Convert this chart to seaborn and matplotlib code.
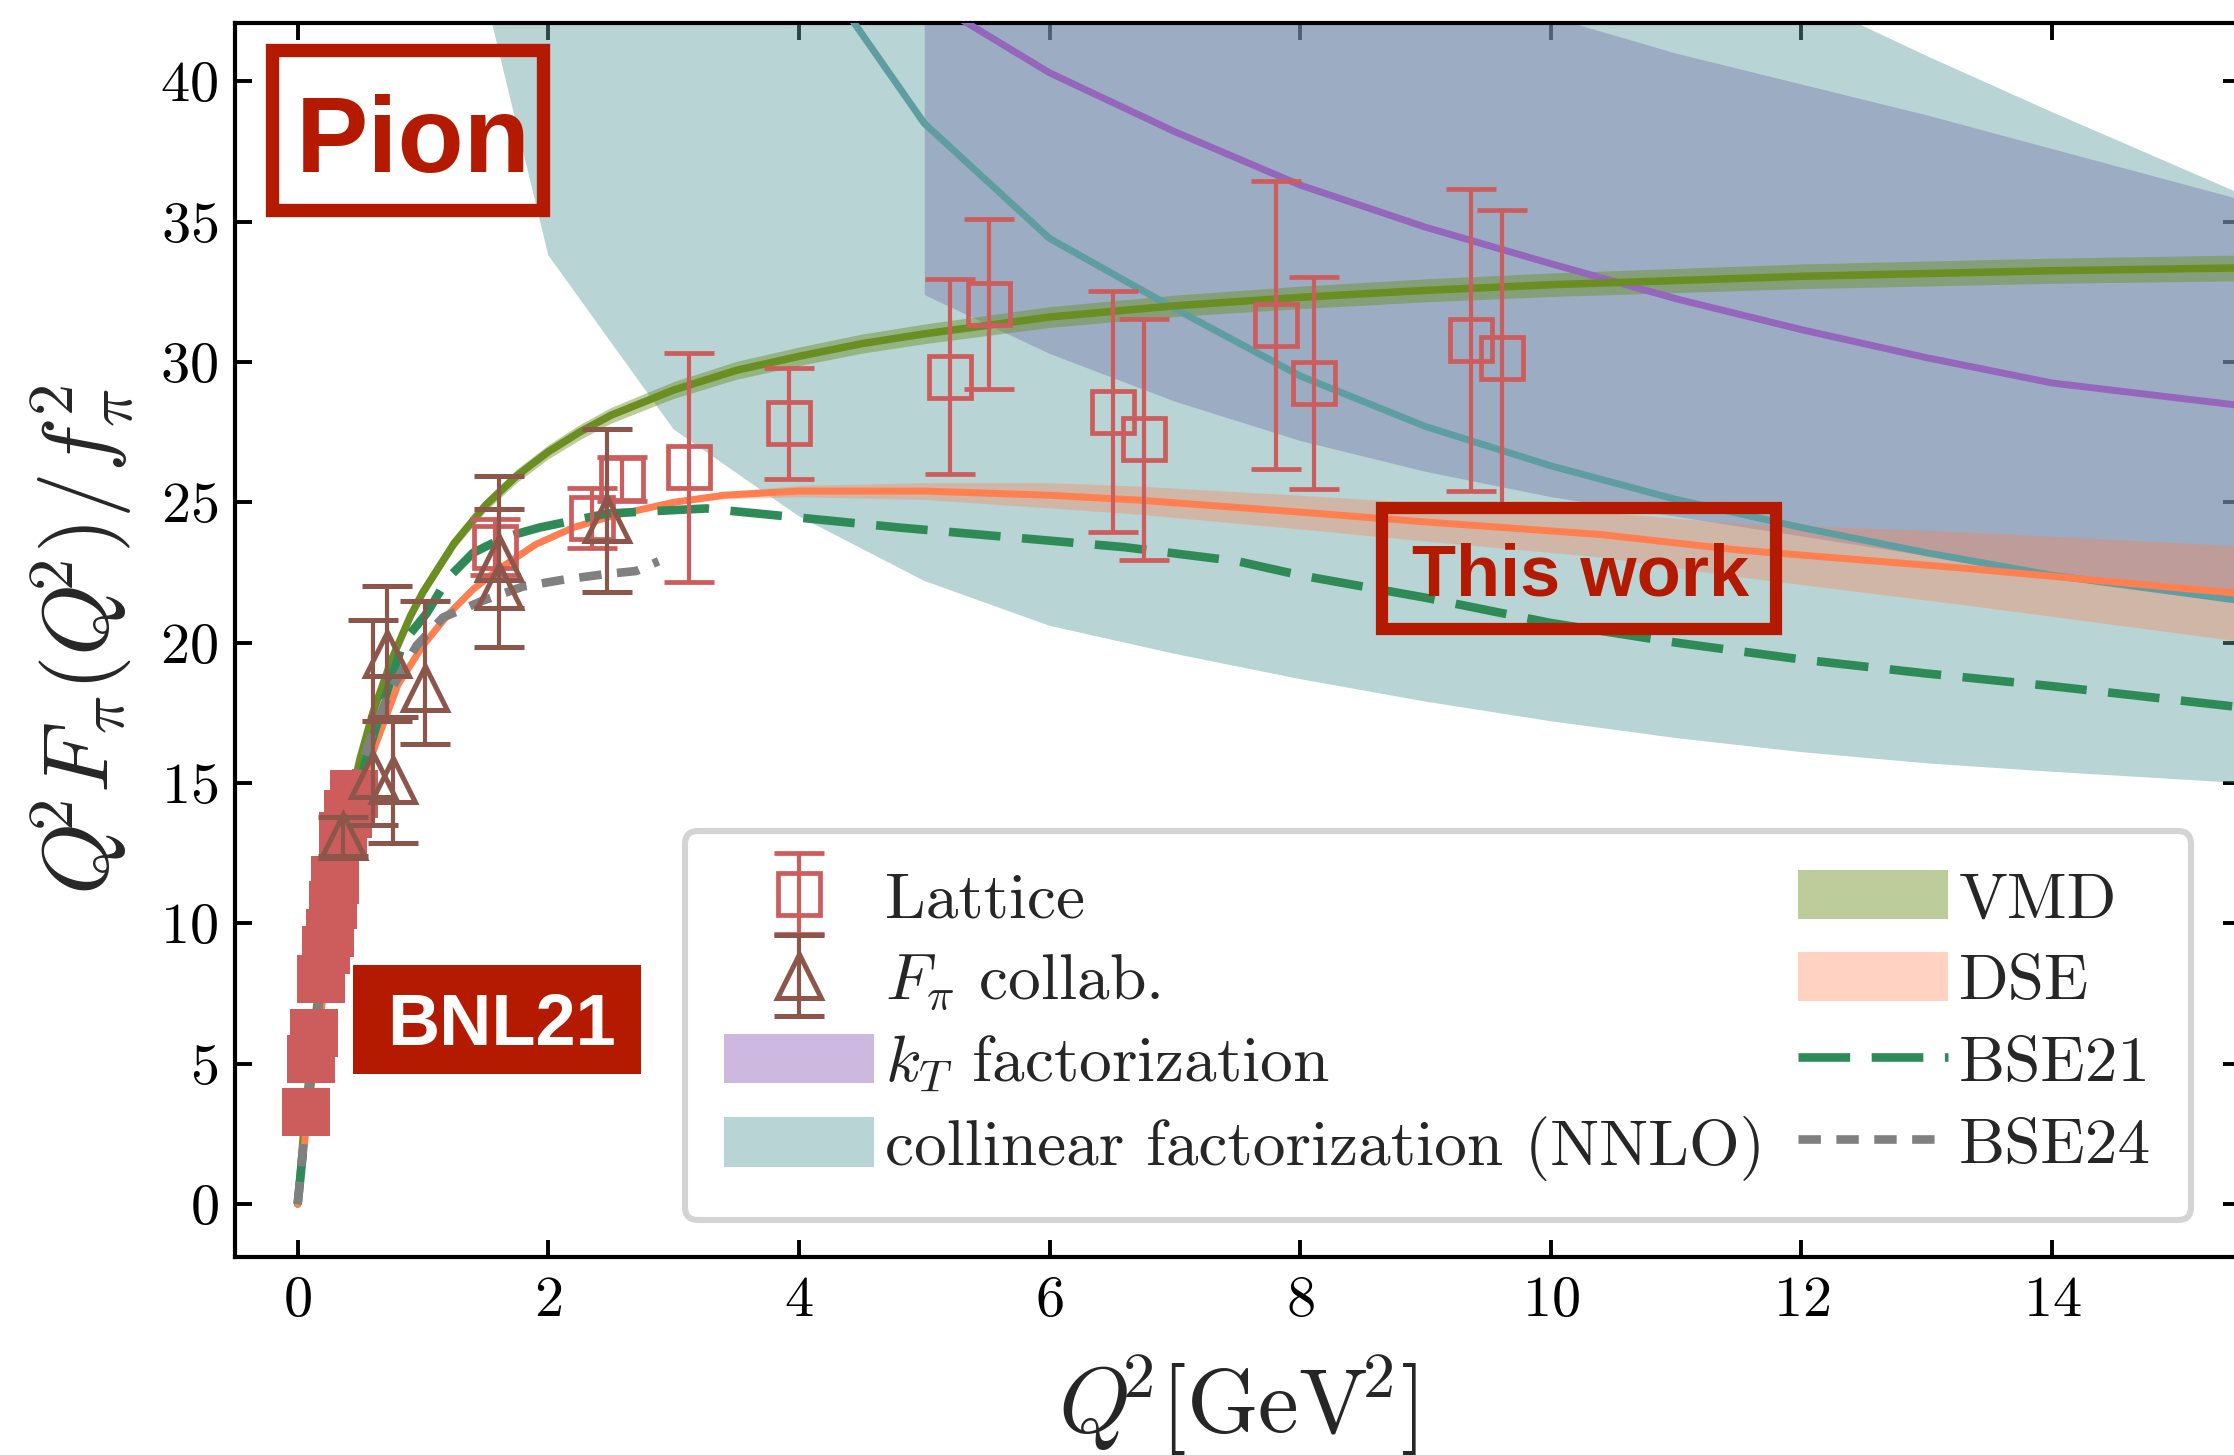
import numpy as np
import matplotlib
matplotlib.use("Agg")
import matplotlib.pyplot as plt
import seaborn as sns
from matplotlib.patches import Patch, Rectangle
from matplotlib.lines import Line2D
from matplotlib.container import ErrorbarContainer
from matplotlib.legend_handler import HandlerErrorbar

# ---------------- data ----------------
# Lattice (open squares)
lat_x = [1.575, 2.346, 2.586, 3.12, 3.918, 5.205, 5.52, 6.508, 6.755, 7.806, 8.11, 9.364, 9.614]
lat_y = [23.42, 24.43, 25.83, 26.24, 27.82, 29.47, 32.06, 28.23, 27.24, 31.31, 29.24, 30.78, 30.13]
lat_err = [1.0, 1.07, 0.8, 4.07, 1.98, 3.47, 3.03, 4.29, 4.29, 5.14, 3.77, 5.38, 5.28]

# F_pi collaboration (open triangles, asymmetric errors)
fpi_x = [0.36, 0.60, 0.71, 0.76, 1.02, 1.61, 1.61, 2.47]
fpi_y = [13.1, 15.3, 19.6, 15.1, 18.4, 23.0, 22.0, 24.4]
fpi_lo = [0.7, 1.8, 2.4, 2.25, 2.0, 1.75, 2.15, 2.6]
fpi_hi = [0.7, 5.5, 2.4, 2.25, 3.1, 1.75, 3.95, 3.2]

# BNL21 (filled squares)
bnl_x = [0.07, 0.11, 0.13, 0.186, 0.23, 0.258, 0.284, 0.30, 0.36, 0.40, 0.45]
bnl_y = [3.29, 5.16, 6.08, 8.0, 9.05, 9.67, 10.65, 11.54, 13.1, 13.9, 14.6]
bnl_err = [0.3, 0.3, 0.3, 0.3, 0.3, 0.3, 0.3, 0.3, 0.3, 0.3, 0.9]

# VMD
vmd_x = [0, 0.05, 0.1, 0.15, 0.2, 0.3, 0.4, 0.5, 0.6, 0.75, 0.9, 1.0, 1.25, 1.5, 1.75, 2.0,
         2.25, 2.5, 3.0, 3.5, 4.0, 4.5, 5.0, 5.5, 6.0, 7.0, 8.0, 9.0, 10.0, 12.0, 14.0, 15.5]
vmd_y = [0, 2.7, 5.0, 7.0, 8.8, 11.7, 14.0, 15.9, 17.5, 19.4, 20.95, 21.8, 23.55, 24.9, 25.95,
         26.8, 27.5, 28.1, 29.0, 29.7, 30.2, 30.65, 31.0, 31.3, 31.6, 32.0, 32.3, 32.55, 32.75,
         33.05, 33.25, 33.35]
vmd_err = [0, 0.03, 0.05, 0.07, 0.08, 0.1, 0.11, 0.12, 0.13, 0.15, 0.17, 0.18, 0.2, 0.22, 0.24,
           0.25, 0.27, 0.28, 0.3, 0.32, 0.33, 0.34, 0.35, 0.36, 0.37, 0.38, 0.4, 0.41, 0.42,
           0.44, 0.45, 0.46]

# DSE (this work)
dse_x = [0, 0.05, 0.1, 0.2, 0.3, 0.45, 0.6, 0.8, 1.0, 1.2, 1.4, 1.6, 1.9, 2.2, 2.5, 3.0, 3.4,
         4.0, 5.0, 6.0, 6.7, 8.0, 9.0, 10.4, 11.5, 13.3, 15.5]
dse_y = [0, 2.0, 3.9, 7.3, 10.3, 13.6, 16.1, 18.5, 19.9, 21.0, 21.9, 22.6, 23.5, 24.1, 24.5,
         25.0, 25.25, 25.4, 25.4, 25.25, 25.08, 24.65, 24.3, 23.85, 23.3, 22.65, 21.75]
dse_err = [0, 0, 0, 0, 0, 0, 0.02, 0.03, 0.03, 0.04, 0.04, 0.05, 0.06, 0.07, 0.08, 0.1, 0.13,
           0.2, 0.3, 0.45, 0.5, 0.6, 0.68, 0.8, 0.95, 1.3, 1.7]

# BSE21
bse21_x = [0, 0.05, 0.16, 0.3, 0.45, 0.66, 0.84, 1.03, 1.2, 1.4, 1.65, 1.93, 2.47, 3.26, 3.9,
           4.8, 5.7, 6.6, 7.5, 8.0, 9.0, 10.0, 11.0, 12.0, 13.0, 14.0, 15.5]
bse21_y = [0, 2.2, 6.9, 11.0, 14.4, 17.5, 20.0, 21.05, 22.3, 23.2, 23.75, 24.1, 24.6, 24.78,
           24.5, 24.1, 23.75, 23.4, 22.9, 22.4, 21.6, 20.7, 20.0, 19.4, 18.9, 18.45, 17.7]

# BSE24
bse24_x = [0, 0.07, 0.11, 0.19, 0.3, 0.35, 0.44, 0.6, 0.74, 0.95, 1.16, 1.48, 1.8, 2.13, 2.47,
           2.7, 2.88]
bse24_y = [0, 3.2, 5.0, 7.9, 11.2, 12.6, 14.8, 16.8, 18.3, 19.9, 20.9, 21.5, 22.0, 22.25, 22.45,
           22.55, 22.9]

# k_T factorization: central line and band
kt_x = [5, 6, 7, 8, 9, 10, 11, 12, 13, 14, 14.75, 15.5]
kt_y = [43.0, 40.3, 38.2, 36.3, 34.8, 33.5, 32.25, 31.15, 30.15, 29.25, 28.85, 28.45]
ktb_x = [5, 6, 7, 8, 9, 10, 11, 12, 13, 14, 15.5]
kt_lo = [32.4, 30.3, 28.6, 27.2, 26.1, 25.2, 24.5, 23.8, 23.1, 22.5, 21.8]
kt_hi = [60, 55, 50, 47, 44.5, 42.3, 41.0, 39.9, 38.8, 37.6, 35.8]

# collinear factorization (NNLO): central line and band
col_x = [4, 5, 6, 7, 8, 9, 10, 11, 12, 13, 14, 15.5]
col_y = [44.9, 38.5, 34.4, 31.9, 29.5, 27.7, 26.3, 25.1, 24.1, 23.2, 22.4, 21.5]
colb_x = [1.5, 2, 3, 4, 5, 6, 7, 8, 9, 10, 11, 12, 13, 14, 15.5]
colb_lo = [43.0, 33.8, 27.6, 24.5, 22.2, 20.6, 19.6, 18.7, 17.9, 17.2, 16.6, 16.1, 15.7, 15.4, 15.0]
colb_hi = [80, 75, 68, 62, 57, 53, 50, 48, 46.5, 45.3, 44.2, 43.0, 40.9, 38.9, 36.0]

legend_labels = ["Lattice", r"$F_\pi$ collab.", r"$k_T$ factorization",
                 "collinear factorization (NNLO)", "VMD", "DSE", "BSE21", "BSE24"]

# ---------------- style ----------------
sns.set_style("ticks")
plt.rcParams.update({
    "font.family": ["cmr10", "DejaVu Serif"],
    "mathtext.fontset": "cm",
    "axes.formatter.use_mathtext": True,
    "axes.unicode_minus": False,
    "axes.edgecolor": "black",
    "xtick.color": "black",
    "ytick.color": "black",
})

C_LAT = "#CD5C5C"
C_FPI = "#8C564B"
C_KT = "tab:purple"
C_COL = "cadetblue"
C_VMD = "olivedrab"
C_DSE = "coral"
C_B21 = "seagreen"
C_B24 = "grey"
C_RED = "#B41A00"

fig = plt.figure(figsize=(11.17, 7.275), dpi=200)
ax = fig.add_axes([0.1052, 0.1364, 0.8975, 0.8479])

# bands
ax.fill_between(ktb_x, kt_lo, kt_hi, color=C_KT, alpha=0.46, lw=0, zorder=1)
ax.fill_between(colb_x, colb_lo, colb_hi, color=C_COL, alpha=0.44, lw=0, zorder=2)
vy, ve = np.array(vmd_y), np.array(vmd_err)
ax.fill_between(vmd_x, vy - ve, vy + ve, color=C_VMD, alpha=0.45, lw=0, zorder=3)
dy, de = np.array(dse_y), np.array(dse_err)
ax.fill_between(dse_x, dy - de, dy + de, color=C_DSE, alpha=0.35, lw=0, zorder=4)


def sline(x, y, **kw):
    sns.lineplot(x=x, y=y, ax=ax, estimator=None, sort=False, **kw)
    return ax.lines[-1]


sline(kt_x, kt_y, color=C_KT, lw=2.5, zorder=5)
sline(col_x, col_y, color=C_COL, lw=2.5, zorder=5)
sline(vmd_x, vmd_y, color=C_VMD, lw=2.7, zorder=6)
sline(dse_x, dse_y, color=C_DSE, lw=2.5, zorder=6)
l21 = sline(bse21_x, bse21_y, color=C_B21, lw=3.1, zorder=7)
l21.set_dashes([6.0, 2.5])
l24 = sline(bse24_x, bse24_y, color=C_B24, lw=3.1, zorder=7)
l24.set_dashes([2.6, 1.8])

# data points
ax.errorbar(bnl_x, bnl_y, yerr=bnl_err, fmt="s", ms=17, color=C_LAT, mec=C_LAT,
            mew=0, elinewidth=1.4, capsize=7.7, capthick=1.4, zorder=8)
lat = ax.errorbar(lat_x, lat_y, yerr=lat_err, fmt="s", ms=15, mfc="none", mec=C_LAT,
                  mew=1.7, ecolor=C_LAT, elinewidth=1.5, capsize=9, capthick=1.5, zorder=9)
fpi = ax.errorbar(fpi_x, fpi_y, yerr=[fpi_lo, fpi_hi], fmt="^", ms=16, mfc="none", mec=C_FPI,
                  mew=1.8, ecolor=C_FPI, elinewidth=1.5, capsize=9, capthick=1.5, zorder=10)

# axes
ax.set_xlim(-0.5, 15.5)
ax.set_ylim(-1.87, 42.08)
ax.set_xticks(range(0, 15, 2))
ax.set_yticks(range(0, 41, 5))
ax.tick_params(which="both", direction="in", top=True, right=True, length=6, width=1.4,
               labelsize=21)
ax.tick_params(axis="x", pad=7)
ax.tick_params(axis="y", pad=6)
for s in ax.spines.values():
    s.set_linewidth(1.5)
    s.set_color("black")
ax.set_xlabel(r"$Q^{\!\!2}[\mathrm{GeV}^{\!2}]$", fontsize=33)
ax.xaxis.set_label_coords(0.5, -0.078)
ax.set_ylabel(r"$Q^{\!\!2}F_{\pi}(Q^{\!\!2})/f_{\pi}^{2}$", fontsize=33)
ax.yaxis.set_label_coords(-0.05, 0.5)

# annotation boxes
ax.add_patch(Rectangle((0.0182, 0.8479), 0.1356, 0.1304, transform=ax.transAxes, fill=False,
                       ec=C_RED, lw=4.8, zorder=12, clip_on=False))
ax.text(0.0304, 0.879, "Pion", transform=ax.transAxes, fontsize=39, fontweight="bold",
        family="Liberation Sans", color=C_RED, ha="left", va="baseline", zorder=13)

ax.add_patch(Rectangle((0.572, 0.5084), 0.1966, 0.0987, transform=ax.transAxes, fill=False,
                       ec=C_RED, lw=4.4, zorder=12))
ax.text(0.587, 0.5355, "This work", transform=ax.transAxes, fontsize=26, fontweight="bold",
        family="Liberation Sans", color=C_RED, ha="left", va="baseline", zorder=13)

ax.add_patch(Rectangle((0.0589, 0.1478), 0.1436, 0.0889, transform=ax.transAxes,
                       fc=C_RED, ec="none", zorder=12))
ax.text(0.0757, 0.1715, "BNL21", transform=ax.transAxes, fontsize=26, fontweight="bold",
        family="Liberation Sans", color="white", ha="left", va="baseline", zorder=13)

# legend
handles = [
    lat, fpi,
    Patch(fc=C_KT, alpha=0.46, lw=0),
    Patch(fc=C_COL, alpha=0.44, lw=0),
    Patch(fc=C_VMD, alpha=0.45, lw=0),
    Patch(fc=C_DSE, alpha=0.35, lw=0),
    Line2D([], [], color=C_B21, lw=3.1, dashes=[6.0, 2.5]),
    Line2D([], [], color=C_B24, lw=3.1, dashes=[2.6, 1.8]),
]
leg = ax.legend(handles, legend_labels, ncol=2, loc="lower left",
                bbox_to_anchor=(0.2244, 0.0297), borderaxespad=0, fontsize=23.5,
                handlelength=2.3, handleheight=0.78, handletextpad=0.17,
                columnspacing=0.5, labelspacing=0.33, borderpad=0.6, numpoints=1,
                frameon=True, fancybox=True, framealpha=1, edgecolor="#d4d4d4",
                handler_map={ErrorbarContainer: HandlerErrorbar(yerr_size=0.62)})
leg.get_frame().set_linewidth(2.2)
leg.set_zorder(20)

fig.savefig("out.png", dpi=200)
